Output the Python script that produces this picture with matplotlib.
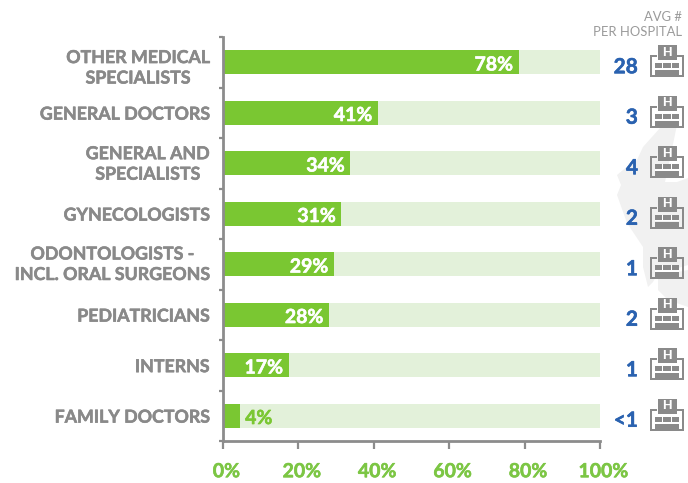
import matplotlib
matplotlib.use('Agg')
import matplotlib.pyplot as plt
from matplotlib.patches import Rectangle, Polygon
from matplotlib.transforms import ScaledTranslation
import matplotlib.patheffects as pe

plt.rcParams['font.family'] = ['Lato', 'DejaVu Sans']

categories = ['OTHER MEDICAL\nSPECIALISTS', 'GENERAL DOCTORS', 'GENERAL AND\nSPECIALISTS', 'GYNECOLOGISTS',
              'ODONTOLOGISTS -\nINCL. ORAL SURGEONS', 'PEDIATRICIANS', 'INTERNS', 'FAMILY DOCTORS']
values = [78.4, 41.1, 33.8, 31.4, 29.4, 28.1, 17.4, 4.4]
avg_per_hospital = ['28', '3', '4', '2', '1', '2', '1', '<1']
xticks = [0, 20, 40, 60, 80, 100]
label_dy = [-4, -1, -0.5, -1, 0, -1, -1, -1]
blob_main = [(677, 125), (660, 128), (643, 147), (637, 160), (623, 170), (617, 175), (621, 185), (617, 195),
             (627, 223), (643, 247), (643, 267), (648, 287), (653, 282), (658, 273), (665, 272), (688, 265),
             (688, 178), (677, 182), (665, 182)]
blob_low = [(658, 276), (688, 270), (688, 307), (668, 300), (658, 290)]

W, H = 688, 483
GREEN = '#7AC732'
PALE = '#E3F1DA'
GRAY = '#8C8C8C'
TXT = '#898989'
BLUE = '#2A62B0'
TICK = '#7CC644'


def thick(color, w=0.4):
    return [pe.withStroke(linewidth=w, foreground=color)]


fig = plt.figure(figsize=(W / 100, H / 100), dpi=100, facecolor='white')

bg = fig.add_axes([0, 0, 1, 1], zorder=0)
bg.set_xlim(0, W); bg.set_ylim(H, 0); bg.axis('off')
bg.add_patch(Polygon(blob_main, closed=True, fc='#F1F1F1', ec='none'))
bg.add_patch(Polygon(blob_low, closed=True, fc='#F1F1F1', ec='none'))

L, R, T, B = 223, 600, 37, 441
ax = fig.add_axes([L / W, 1 - B / H, (R - L) / W, (B - T) / H], zorder=1)
ax.patch.set_alpha(0)
n = len(categories)
ys = list(range(n))
ax.set_ylim(n - 0.5, -0.5)
ax.set_xlim(0, 100)
ax.barh(ys, [100] * n, height=0.48, color=PALE, linewidth=0)
ax.barh(ys, values, height=0.48, color=GREEN, linewidth=0)

for y, v in zip(ys, values):
    lab = f'{round(v)}%'
    if v >= 10:
        ax.annotate(lab, xy=(v, y), xytext=(-4, -2), textcoords='offset points', ha='right', va='center',
                    color='white', fontsize=14, fontweight='bold', path_effects=thick('white'))
    else:
        ax.annotate(lab, xy=(v, y), xytext=(4, -2), textcoords='offset points', ha='left', va='center',
                    color=GREEN, fontsize=14, fontweight='bold', path_effects=thick(GREEN))

ax.set_yticks([i - 0.5 for i in range(n + 1)])
ax.set_yticklabels([])
ax.tick_params(axis='y', length=3, width=1.6, color=GRAY, direction='out')
ax.set_xticks(xticks)
ax.set_xticklabels([f'{t}%' for t in xticks], color=TICK, fontsize=14, fontweight='bold',
                   path_effects=thick(TICK))
ax.tick_params(axis='x', length=6, width=1.6, color=GRAY, direction='out', pad=10)
shift = ScaledTranslation(3.5 / 100, 0, fig.dpi_scale_trans)
for lbl in ax.get_xticklabels():
    lbl.set_transform(lbl.get_transform() + shift)
for s in ('top', 'right'):
    ax.spines[s].set_visible(False)
for s in ('left', 'bottom'):
    ax.spines[s].set_color(GRAY)
    ax.spines[s].set_linewidth(2)

for y, c, dy in zip(ys, categories, label_dy):
    ax.annotate(c, xy=(0, y), xycoords='data', xytext=(-10, dy), textcoords='offset points',
                ha='right', va='center', color=TXT, fontsize=12.8, fontweight='bold',
                multialignment='center', linespacing=1.25, path_effects=thick(TXT))

ov = fig.add_axes([0, 0, 1, 1], zorder=2)
ov.set_xlim(0, W); ov.set_ylim(H, 0); ov.axis('off'); ov.patch.set_alpha(0)
ov.text(682, 17, 'AVG #', ha='right', va='center', color='#9A9A9A', fontsize=9.4)
ov.text(682, 32, 'PER HOSPITAL', ha='right', va='center', color='#9A9A9A', fontsize=9.4)


def hospital(cx, top):
    c = '#8A8A8A'
    r = lambda x, y, w, h, col=c: ov.add_patch(Rectangle((cx + x, top + y), w, h, fc=col, ec='none'))
    r(-9.5, 0, 19, 15)
    ov.text(cx, top + 7.5, 'H', ha='center', va='center', color='white', fontsize=9.5, fontweight='bold',
            family='Liberation Sans')
    r(-17, 10, 7, 2.2); r(10, 10, 7, 2.2)
    r(-17, 10, 2.2, 22); r(14.8, 10, 2.2, 22)
    r(-17, 30, 34, 2.2)
    r(-12, 18, 24, 5); r(-12, 25, 24, 5)
    r(-5, 25, 10, 6)
    for dx in (-4.5, 4.5):
        r(dx - 0.5, 18, 1, 5, 'white')
    r(-12, 23, 24, 1.6, 'white')


for i, a in enumerate(avg_per_hospital):
    yc = T + (i + 0.5) * (B - T) / n
    ov.text(638, yc + 5, a, ha='right', va='center', color=BLUE, fontsize=15, fontweight='bold',
            path_effects=thick(BLUE))
    hospital(667, yc - 17)

fig.savefig('out.png', dpi=100, facecolor='white')
